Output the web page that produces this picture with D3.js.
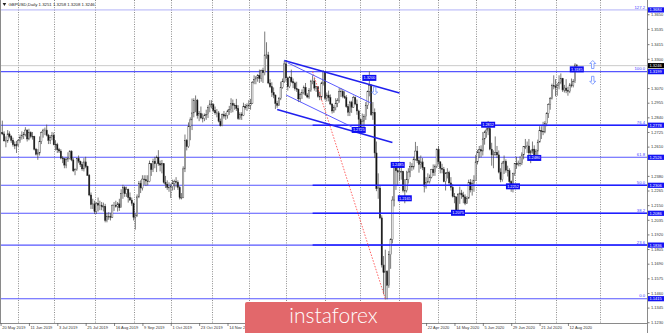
<!DOCTYPE html>
<html><head><meta charset="utf-8">
<script src="https://cdn.jsdelivr.net/npm/d3@7"></script>
<style>html,body{margin:0;padding:0;background:#fff;overflow:hidden}svg{display:block}</style>
</head><body><svg id="c" width="665" height="333"></svg>
<script>
// ---------------- DATA ----------------
const symbol = "GBPUSD", period = "Daily";
const firstDate = "2019-05-20";
const holidays = ["2019-12-25", "2020-01-01"];
// daily bars [open, high, low, close]
const may2019 = [[1.2720,1.2760,1.2700,1.2720],[1.2720,1.2814,1.2700,1.2710],[1.2710,1.2730,1.2650,1.2655],[1.2655,1.2690,1.2605,1.2655],[1.2655,1.2740,1.2640,1.2710],[1.2710,1.2730,1.2675,1.2690],[1.2690,1.2700,1.2640,1.2660],[1.2660,1.2680,1.2610,1.2625],[1.2625,1.2650,1.2590,1.2615],[1.2615,1.2655,1.2560,1.2625]];
const jun2019 = [[1.2625,1.2670,1.2610,1.2660],[1.2660,1.2705,1.2640,1.2680],[1.2680,1.2730,1.2665,1.2695],[1.2695,1.2725,1.2670,1.2705],[1.2705,1.2763,1.2690,1.2740],[1.2740,1.2745,1.2650,1.2670],[1.2670,1.2750,1.2660,1.2720],[1.2720,1.2730,1.2675,1.2690],[1.2690,1.2725,1.2665,1.2690],[1.2690,1.2695,1.2580,1.2590],[1.2590,1.2600,1.2540,1.2550],[1.2550,1.2590,1.2506,1.2560],[1.2560,1.2690,1.2540,1.2650],[1.2650,1.2730,1.2630,1.2720],[1.2720,1.2750,1.2680,1.2740],[1.2740,1.2760,1.2700,1.2740],[1.2740,1.2783,1.2690,1.2700],[1.2700,1.2710,1.2630,1.2660],[1.2660,1.2700,1.2630,1.2680],[1.2680,1.2725,1.2660,1.2700]];
const jul2019 = [[1.2700,1.2720,1.2620,1.2625],[1.2625,1.2660,1.2580,1.2625],[1.2625,1.2640,1.2560,1.2585],[1.2585,1.2600,1.2560,1.2575],[1.2575,1.2590,1.2510,1.2520],[1.2520,1.2535,1.2480,1.2515],[1.2515,1.2520,1.2440,1.2465],[1.2465,1.2525,1.2440,1.2510],[1.2510,1.2565,1.2490,1.2515],[1.2515,1.2580,1.2510,1.2575],[1.2575,1.2580,1.2495,1.2505],[1.2505,1.2520,1.2410,1.2420],[1.2420,1.2440,1.2385,1.2430],[1.2430,1.2520,1.2420,1.2515],[1.2515,1.2540,1.2480,1.2495],[1.2495,1.2500,1.2450,1.2470],[1.2470,1.2490,1.2420,1.2435],[1.2435,1.2520,1.2415,1.2490],[1.2490,1.2530,1.2440,1.2455],[1.2455,1.2460,1.2380,1.2385],[1.2385,1.2395,1.2220,1.2230],[1.2230,1.2250,1.2120,1.2155],[1.2155,1.2200,1.2120,1.2160]];
const aug2019 = [[1.2160,1.2185,1.2080,1.2100],[1.2100,1.2175,1.2080,1.2165],[1.2165,1.2210,1.2100,1.2150],[1.2150,1.2185,1.2110,1.2150],[1.2150,1.2175,1.2110,1.2140],[1.2140,1.2170,1.2100,1.2140],[1.2140,1.2160,1.2015,1.2030],[1.2030,1.2090,1.2015,1.2060],[1.2060,1.2095,1.2035,1.2060],[1.2060,1.2090,1.2030,1.2055],[1.2055,1.2155,1.2050,1.2150],[1.2150,1.2175,1.2105,1.2150],[1.2150,1.2185,1.2130,1.2140],[1.2140,1.2175,1.2100,1.2160],[1.2160,1.2200,1.2105,1.2130],[1.2130,1.2275,1.2130,1.2240],[1.2240,1.2310,1.2200,1.2290],[1.2290,1.2300,1.2215,1.2240],[1.2240,1.2295,1.2215,1.2275],[1.2275,1.2280,1.2170,1.2210],[1.2210,1.2250,1.2185,1.2190],[1.2190,1.2210,1.2145,1.2165]];
const sep2019 = [[1.2165,1.2170,1.2030,1.2055],[1.2055,1.2085,1.1958,1.2065],[1.2065,1.2235,1.2060,1.2215],[1.2215,1.2340,1.2205,1.2320],[1.2320,1.2345,1.2245,1.2285],[1.2285,1.2385,1.2265,1.2355],[1.2355,1.2385,1.2310,1.2350],[1.2350,1.2385,1.2300,1.2340],[1.2340,1.2385,1.2305,1.2335],[1.2335,1.2500,1.2330,1.2475],[1.2475,1.2480,1.2380,1.2430],[1.2430,1.2515,1.2410,1.2495],[1.2495,1.2530,1.2440,1.2475],[1.2475,1.2540,1.2410,1.2525],[1.2525,1.2582,1.2460,1.2475],[1.2475,1.2500,1.2415,1.2465],[1.2465,1.2505,1.2400,1.2475],[1.2475,1.2480,1.2320,1.2330],[1.2330,1.2380,1.2285,1.2315],[1.2315,1.2345,1.2270,1.2290],[1.2290,1.2330,1.2255,1.2290]];
const oct2019 = [[1.2290,1.2318,1.2206,1.2295],[1.2295,1.2350,1.2265,1.2320],[1.2320,1.2350,1.2270,1.2335],[1.2335,1.2370,1.2290,1.2330],[1.2330,1.2345,1.2270,1.2290],[1.2290,1.2300,1.2195,1.2210],[1.2210,1.2245,1.2195,1.2210],[1.2210,1.2455,1.2205,1.2435],[1.2435,1.2705,1.2410,1.2660],[1.2660,1.2670,1.2580,1.2610],[1.2610,1.2800,1.2600,1.2770],[1.2770,1.2840,1.2660,1.2820],[1.2820,1.2988,1.2740,1.2875],[1.2875,1.2990,1.2840,1.2970],[1.2970,1.3012,1.2880,1.2975],[1.2975,1.2985,1.2830,1.2855],[1.2855,1.2890,1.2810,1.2870],[1.2870,1.2925,1.2825,1.2835],[1.2835,1.2870,1.2800,1.2830],[1.2830,1.2870,1.2810,1.2855],[1.2855,1.2900,1.2820,1.2860],[1.2860,1.2935,1.2835,1.2915],[1.2915,1.2975,1.2880,1.2945]];
const nov2019 = [[1.2945,1.2975,1.2910,1.2940],[1.2940,1.2950,1.2880,1.2895],[1.2895,1.2925,1.2860,1.2875],[1.2875,1.2905,1.2840,1.2875],[1.2875,1.2890,1.2800,1.2810],[1.2810,1.2830,1.2768,1.2775],[1.2775,1.2870,1.2770,1.2860],[1.2860,1.2890,1.2830,1.2850],[1.2850,1.2875,1.2820,1.2855],[1.2855,1.2900,1.2830,1.2890],[1.2890,1.2930,1.2860,1.2900],[1.2900,1.2990,1.2875,1.2950],[1.2950,1.2980,1.2880,1.2935],[1.2935,1.2950,1.2900,1.2935],[1.2935,1.2985,1.2890,1.2910],[1.2910,1.2935,1.2820,1.2830],[1.2830,1.2880,1.2820,1.2865],[1.2865,1.2880,1.2820,1.2855],[1.2855,1.2955,1.2850,1.2925],[1.2925,1.2945,1.2900,1.2915],[1.2915,1.2950,1.2890,1.2935]];
const dec2019 = [[1.2935,1.2975,1.2905,1.2935],[1.2935,1.2985,1.2900,1.2950],[1.2950,1.3125,1.2945,1.3115],[1.3115,1.3170,1.3100,1.3135],[1.3135,1.3165,1.3100,1.3150],[1.3150,1.3180,1.3120,1.3170],[1.3170,1.3215,1.3110,1.3145],[1.3145,1.3215,1.3120,1.3210],[1.3210,1.3230,1.3110,1.3190],[1.3190,1.3514,1.3170,1.3330],[1.3330,1.3430,1.3300,1.3330],[1.3330,1.3355,1.3100,1.3110],[1.3110,1.3140,1.3070,1.3080],[1.3080,1.3115,1.3000,1.3035],[1.3035,1.3075,1.2990,1.3015],[1.3015,1.3020,1.2905,1.2950],[1.2950,1.2970,1.2915,1.2935],[1.2935,1.3000,1.2930,1.2990],[1.2990,1.3120,1.2975,1.3075],[1.3075,1.3145,1.3065,1.3120],[1.3120,1.3285,1.3110,1.3260]];
const jan2020 = [[1.3260,1.3285,1.3120,1.3150],[1.3150,1.3160,1.3050,1.3080],[1.3080,1.3165,1.3070,1.3155],[1.3155,1.3215,1.3110,1.3120],[1.3120,1.3145,1.3070,1.3110],[1.3110,1.3120,1.3050,1.3065],[1.3065,1.3120,1.3040,1.3060],[1.3060,1.3065,1.2960,1.2985],[1.2985,1.3035,1.2960,1.3020],[1.3020,1.3060,1.2985,1.3035],[1.3035,1.3090,1.3020,1.3075],[1.3075,1.3110,1.3010,1.3015],[1.3015,1.3030,1.2990,1.3000],[1.3000,1.3070,1.2985,1.3050],[1.3050,1.3135,1.3040,1.3125],[1.3125,1.3170,1.3100,1.3125],[1.3125,1.3150,1.3050,1.3070],[1.3070,1.3085,1.3040,1.3080],[1.3080,1.3085,1.2995,1.3005],[1.3005,1.3040,1.2975,1.3000],[1.3000,1.3120,1.2975,1.3110],[1.3110,1.3210,1.3090,1.3200]];
const feb2020 = [[1.3200,1.3200,1.2975,1.2990],[1.2990,1.3035,1.2965,1.3015],[1.3015,1.3050,1.2965,1.2995],[1.2995,1.3020,1.2935,1.2945],[1.2945,1.2950,1.2870,1.2890],[1.2890,1.2935,1.2875,1.2915],[1.2915,1.2990,1.2895,1.2950],[1.2950,1.2990,1.2920,1.2970],[1.2970,1.3070,1.2955,1.3045],[1.3045,1.3070,1.3000,1.3045],[1.3045,1.3060,1.2990,1.3005],[1.3005,1.3045,1.2985,1.2995],[1.2995,1.3015,1.2915,1.2925],[1.2925,1.2945,1.2850,1.2880],[1.2880,1.2970,1.2850,1.2960],[1.2960,1.2970,1.2875,1.2920],[1.2920,1.3010,1.2915,1.2995],[1.2995,1.3005,1.2935,1.2945],[1.2945,1.2980,1.2860,1.2890],[1.2890,1.2900,1.2725,1.2825]];
const mar2020 = [[1.2825,1.2830,1.2725,1.2760],[1.2760,1.2870,1.2745,1.2810],[1.2810,1.2865,1.2760,1.2845],[1.2845,1.2960,1.2820,1.2935],[1.2935,1.3050,1.2905,1.3045],[1.3045,1.3200,1.3005,1.3090],[1.3090,1.3100,1.2850,1.2860],[1.2860,1.2960,1.2820,1.2880],[1.2880,1.2910,1.2520,1.2560],[1.2560,1.2650,1.2260,1.2280],[1.2280,1.2400,1.2200,1.2285],[1.2285,1.2300,1.2040,1.2050],[1.2050,1.2070,1.1660,1.1680],[1.1680,1.1750,1.1450,1.1620],[1.1620,1.1800,1.1409,1.1630],[1.1630,1.1640,1.1410,1.1520],[1.1520,1.1790,1.1500,1.1760],[1.1760,1.1890,1.1650,1.1880],[1.1880,1.2220,1.1850,1.2190],[1.2190,1.2480,1.2140,1.2460],[1.2460,1.2485,1.2270,1.2420],[1.2420,1.2485,1.2300,1.2410]];
const apr2020 = [[1.2410,1.2485,1.2345,1.2410],[1.2410,1.2485,1.2350,1.2415],[1.2415,1.2420,1.2250,1.2265],[1.2265,1.2355,1.2165,1.2265],[1.2265,1.2420,1.2250,1.2350],[1.2350,1.2440,1.2320,1.2410],[1.2410,1.2490,1.2370,1.2455],[1.2455,1.2480,1.2420,1.2450],[1.2450,1.2530,1.2430,1.2510],[1.2510,1.2647,1.2500,1.2575],[1.2575,1.2615,1.2480,1.2500],[1.2500,1.2530,1.2405,1.2470],[1.2470,1.2540,1.2435,1.2490],[1.2490,1.2520,1.2425,1.2445],[1.2445,1.2450,1.2250,1.2300],[1.2300,1.2370,1.2280,1.2330],[1.2330,1.2400,1.2320,1.2335],[1.2335,1.2390,1.2320,1.2370],[1.2370,1.2435,1.2360,1.2430],[1.2430,1.2470,1.2380,1.2405],[1.2405,1.2470,1.2380,1.2455],[1.2455,1.2595,1.2440,1.2590]];
const may2020 = [[1.2590,1.2615,1.2470,1.2490],[1.2490,1.2495,1.2400,1.2440],[1.2440,1.2475,1.2400,1.2430],[1.2430,1.2450,1.2330,1.2335],[1.2335,1.2410,1.2265,1.2400],[1.2400,1.2440,1.2360,1.2405],[1.2405,1.2420,1.2300,1.2325],[1.2325,1.2370,1.2265,1.2290],[1.2290,1.2315,1.2210,1.2220],[1.2220,1.2245,1.2165,1.2215],[1.2215,1.2215,1.2080,1.2110],[1.2110,1.2245,1.2075,1.2235],[1.2235,1.2295,1.2160,1.2245],[1.2245,1.2270,1.2200,1.2230],[1.2230,1.2255,1.2165,1.2215],[1.2215,1.2235,1.2150,1.2165],[1.2165,1.2220,1.2160,1.2205],[1.2205,1.2350,1.2200,1.2330],[1.2330,1.2355,1.2250,1.2270],[1.2270,1.2350,1.2225,1.2320],[1.2320,1.2385,1.2255,1.2345]];
const jun2020 = [[1.2345,1.2545,1.2345,1.2490],[1.2490,1.2585,1.2470,1.2565],[1.2565,1.2615,1.2520,1.2585],[1.2585,1.2620,1.2525,1.2575],[1.2575,1.2725,1.2540,1.2670],[1.2670,1.2735,1.2625,1.2725],[1.2725,1.2760,1.2680,1.2740],[1.2740,1.2812,1.2700,1.2750],[1.2750,1.2775,1.2580,1.2590],[1.2590,1.2640,1.2460,1.2545],[1.2545,1.2580,1.2440,1.2545],[1.2545,1.2690,1.2540,1.2565],[1.2565,1.2615,1.2520,1.2545],[1.2545,1.2580,1.2400,1.2410],[1.2410,1.2440,1.2330,1.2350],[1.2350,1.2495,1.2335,1.2480],[1.2480,1.2540,1.2395,1.2495],[1.2495,1.2510,1.2405,1.2425],[1.2425,1.2460,1.2375,1.2420],[1.2420,1.2440,1.2320,1.2335],[1.2335,1.2345,1.2255,1.2310],[1.2310,1.2405,1.2250,1.2400]];
const jul2020 = [[1.2400,1.2480,1.2380,1.2475],[1.2475,1.2530,1.2435,1.2470],[1.2470,1.2500,1.2455,1.2480],[1.2480,1.2535,1.2455,1.2475],[1.2475,1.2565,1.2465,1.2545],[1.2545,1.2610,1.2510,1.2610],[1.2610,1.2670,1.2590,1.2610],[1.2610,1.2650,1.2560,1.2615],[1.2615,1.2670,1.2535,1.2560],[1.2560,1.2585,1.2480,1.2575],[1.2575,1.2650,1.2555,1.2590],[1.2590,1.2620,1.2530,1.2540],[1.2540,1.2590,1.2515,1.2575],[1.2575,1.2665,1.2540,1.2645],[1.2645,1.2770,1.2645,1.2735],[1.2735,1.2770,1.2670,1.2730],[1.2730,1.2805,1.2700,1.2725],[1.2725,1.2810,1.2715,1.2790],[1.2790,1.2880,1.2770,1.2870],[1.2870,1.2950,1.2835,1.2940],[1.2940,1.3000,1.2900,1.2990],[1.2990,1.3105,1.2980,1.3090],[1.3090,1.3170,1.3060,1.3085]];
const aug2020 = [[1.3085,1.3140,1.3005,1.3075],[1.3075,1.3110,1.3010,1.3090],[1.3090,1.3170,1.3060,1.3115],[1.3115,1.3185,1.3100,1.3145],[1.3145,1.3150,1.3040,1.3055],[1.3055,1.3095,1.3035,1.3070],[1.3070,1.3140,1.3030,1.3050],[1.3050,1.3080,1.3010,1.3045],[1.3045,1.3110,1.3030,1.3095],[1.3095,1.3145,1.3075,1.3090],[1.3090,1.3140,1.3075,1.3120],[1.3120,1.3265,1.3110,1.3251],[1.3251,1.3258,1.3208,1.3246]];

// price axis tick labels
const yTicks = [1.3650,1.3535,1.3415,1.3300,1.3070,1.2955,1.2840,1.2725,1.2610,1.2380,1.2265,1.2150,1.2035,1.1920,1.1805,1.1690,1.1575,1.1460,1.1345,1.1230];
// time axis labels visible outside the watermark (dates)
const dateTicks = ["2019-05-20","2019-06-11","2019-07-03","2019-07-25","2019-08-16","2019-09-09","2019-10-01","2019-10-23","2019-11-14","2020-04-22","2020-05-14","2020-06-05","2020-06-29","2020-07-21","2020-08-12"];
// period separators (month starts)
const gridDates = ["2019-06-03","2019-07-01","2019-08-01","2019-09-02","2019-10-01","2019-11-01","2019-12-02","2020-01-02","2020-02-03","2020-03-02","2020-04-01","2020-05-01","2020-06-01","2020-07-01","2020-08-03","2020-09-01"];
// Fibonacci retracement
const fibLevels = ["127.2","100.0","76.4","61.8","50.0","38.2","23.6","0.0"];
const fibPrices = [1.3684,1.3199,1.2778,1.2526,1.2306,1.2086,1.1836,1.1415];
const fibAnchor = [["2020-01-23",1.3199],["2020-03-20",1.1415]];
// channel trend lines [date, price] -> [date, price]
const upperOuter = [["2019-12-31",1.3287],["2020-04-01",1.3031]];
const upperInner = [["2020-01-03",1.3268],["2020-03-10",1.2952]];
const lowerInner = [["2020-01-02",1.3016],["2020-02-24",1.2766]];
const lowerOuter = [["2019-12-24",1.2902],["2020-03-26",1.2643]];
// price marker boxes [date, price, text]
const markers = [["2020-03-09",1.3150,"1.3200"],["2020-02-28",1.2741,"1.2725"],["2020-03-31",1.2466,"1.2485"],["2020-04-06",1.2204,"1.2165"],["2020-06-10",1.2782,"1.2812"],["2020-05-18",1.2090,"1.2075"],["2020-06-30",1.2298,"1.2252"],["2020-07-16",1.2521,"1.2480"],["2020-08-19",1.3217,"1.3185"]];
// arrows [date, price, direction]
const arrows = [["2020-08-28",1.3255,"up"],["2020-08-28",1.3131,"down"],["2020-03-12",1.3047,"down"]];

// ---------------- BUILD ----------------
const bars = [].concat(may2019,jun2019,jul2019,aug2019,sep2019,oct2019,nov2019,dec2019,jan2020,feb2020,mar2020,apr2020,may2020,jun2020,jul2020,aug2020)
  .map(b => ({o:b[0],h:b[1],l:b[2],c:b[3]}));
const dayMs = 86400000;
const dates = [];
{
  let t = Date.parse(firstDate + "T00:00:00Z");
  while (dates.length < bars.length) {
    const d = new Date(t), s = d.toISOString().slice(0,10), w = d.getUTCDay();
    if (w !== 0 && w !== 6 && !holidays.includes(s)) dates.push(s);
    t += dayMs;
  }
  // future time axis (calendar days after the last bar)
  let f = Date.parse(dates[dates.length-1] + "T00:00:00Z");
  for (let k = 0; k < 60; k++) { f += dayMs; dates.push(new Date(f).toISOString().slice(0,10)); }
}
bars.forEach((b,i) => b.date = dates[i]);
const idx = new Map(dates.map((d,i) => [d,i]));
const ix = s => idx.get(s);

const W = 665, H = 333, plotR = 647, plotB = 323;
const xs = d3.scaleLinear().domain([-0.32, 364.6]).range([0, plotR]);
const ys = d3.scaleLinear().domain([1.1224, 1.3762]).range([plotB, 0]);

const svg = d3.select("#c");
svg.append("rect").attr("width",W).attr("height",H).attr("fill","#fff");
const FONT = "'Liberation Sans', Arial, sans-serif";

// month separators
svg.append("g").selectAll("line").data(gridDates).join("line")
  .attr("x1", d => Math.round(xs(ix(d)))+0.5).attr("x2", d => Math.round(xs(ix(d)))+0.5)
  .attr("y1", 0).attr("y2", plotB)
  .attr("stroke","#808080").attr("stroke-width",0.9).attr("stroke-dasharray","1,1.4");

// full width level lines
svg.append("g").selectAll("line").data(fibPrices).join("line")
  .attr("x1", 0).attr("x2", plotR)
  .attr("y1", d => ys(d)).attr("y2", d => ys(d))
  .attr("stroke", (d,i) => i === 0 ? "#a9a9f6" : "#5656ff")
  .attr("stroke-width", (d,i) => i === 0 ? 0.9 : 1.1);

// current price line
const last = bars[bars.length-1];
svg.append("line").attr("x1",0).attr("x2",plotR).attr("y1",ys(last.c)).attr("y2",ys(last.c))
  .attr("stroke","#c4c4c4").attr("stroke-width",0.9);

// candles
const cg = svg.append("g");
cg.selectAll("line").data(bars).join("line")
  .attr("x1", (d,i) => xs(i)).attr("x2", (d,i) => xs(i))
  .attr("y1", d => ys(d.h)).attr("y2", d => ys(d.l))
  .attr("stroke","#4d4d4d").attr("stroke-width",0.75);
cg.selectAll("rect").data(bars).join("rect")
  .attr("x", (d,i) => xs(i) - 0.65).attr("width", 1.3)
  .attr("y", d => ys(Math.max(d.o,d.c)))
  .attr("height", d => Math.max(0.6, Math.abs(ys(d.o) - ys(d.c))))
  .attr("fill", d => d.c >= d.o ? "#ffffff" : "#111111")
  .attr("stroke", "#2a2a2a").attr("stroke-width", 0.4);

// fibonacci overlay lines (start at anchor)
const fibStrong = new Set(["76.4","50.0","38.2","23.6"]);
svg.append("g").selectAll("line").data(fibPrices.filter((p,i) => fibStrong.has(fibLevels[i]))).join("line")
  .attr("x1", xs(ix(fibAnchor[0][0]))).attr("x2", plotR)
  .attr("y1", d => ys(d)).attr("y2", d => ys(d))
  .attr("stroke","#1f1fff").attr("stroke-width",1.5);
// fib diagonal
svg.append("line")
  .attr("x1", xs(ix(fibAnchor[0][0]))).attr("y1", ys(fibAnchor[0][1]))
  .attr("x2", xs(ix(fibAnchor[1][0]))).attr("y2", ys(fibAnchor[1][1]))
  .attr("stroke","#ff5050").attr("stroke-width",0.9).attr("stroke-dasharray","1.5,1.5");

// channel lines
const chan = [[upperOuter,1.6,"#2020ee"],[lowerOuter,1.6,"#2020ee"],[upperInner,0.9,"#4a4aff"],[lowerInner,0.9,"#4a4aff"]];
svg.append("g").selectAll("line").data(chan).join("line")
  .attr("x1", d => xs(ix(d[0][0][0]))).attr("y1", d => ys(d[0][0][1]))
  .attr("x2", d => xs(ix(d[0][1][0]))).attr("y2", d => ys(d[0][1][1]))
  .attr("stroke", d => d[2]).attr("stroke-width", d => d[1]);

// fib level text
svg.append("g").selectAll("text").data(fibLevels).join("text")
  .attr("x", plotR - 2).attr("y", (d,i) => ys(fibPrices[i]) - 1.2)
  .attr("text-anchor","end").attr("font-family",FONT).attr("font-size",4.2)
  .attr("fill","#4040ff").text(d => d);

// marker boxes
const mg = svg.append("g").selectAll("g").data(markers).join("g")
  .attr("transform", d => `translate(${xs(ix(d[0]))},${ys(d[1])})`);
mg.append("rect").attr("x",-7).attr("y",-3).attr("width",14).attr("height",6).attr("fill","#0d0df2");
mg.append("text").attr("text-anchor","middle").attr("y",1.4).attr("font-family",FONT)
  .attr("font-size",3.8).attr("fill","#fff").text(d => d[2]);

// arrows
const arrowPath = "M0,-4 L3,-1 L1.2,-1 L1.2,4 L-1.2,4 L-1.2,-1 L-3,-1 Z";
svg.append("g").selectAll("path").data(arrows).join("path")
  .attr("d", arrowPath)
  .attr("transform", d => `translate(${xs(ix(d[0]))},${ys(d[1])}) rotate(${d[2]==="up"?0:180})`)
  .attr("fill","#fff").attr("stroke","#6a8cff").attr("stroke-width",0.8);

// frame
svg.append("line").attr("x1",0.5).attr("x2",0.5).attr("y1",0).attr("y2",plotB).attr("stroke","#8a8a8a");
svg.append("line").attr("x1",0).attr("x2",plotR).attr("y1",plotB+0.5).attr("y2",plotB+0.5).attr("stroke","#8a8a8a");

// price axis
const yAxis = svg.append("g").attr("transform",`translate(${plotR+0.5},0)`)
  .call(d3.axisRight(ys).tickValues(yTicks).tickSize(2).tickPadding(1.5).tickFormat(d3.format(".4f")));
yAxis.select(".domain").attr("stroke","#8a8a8a").attr("d",`M0,0V${H}`);
yAxis.selectAll(".tick line").attr("stroke","#777");
yAxis.selectAll("text").attr("font-family",FONT).attr("font-size",4).attr("fill","#333");

// fib price boxes on the axis
const fb = svg.append("g").selectAll("g").data(fibPrices).join("g")
  .attr("transform", d => `translate(${plotR+0.5},${ys(d)})`);
fb.append("rect").attr("x",0.5).attr("y",-2.6).attr("width",16).attr("height",5.2).attr("fill","#1414f4");
fb.append("text").attr("x",2).attr("y",1.5).attr("font-family",FONT).attr("font-size",4)
  .attr("fill","#fff").text(d => d3.format(".4f")(d));
// current price box
const cb = svg.append("g").attr("transform",`translate(${plotR+0.5},${ys(last.c)})`);
cb.append("rect").attr("x",0.5).attr("y",-2.6).attr("width",16).attr("height",5.2).attr("fill","#000");
cb.append("text").attr("x",2).attr("y",1.5).attr("font-family",FONT).attr("font-size",4)
  .attr("fill","#fff").text(d3.format(".4f")(last.c));

// time axis
const fmt = d3.utcFormat("%-d %b %Y");
const xAxis = svg.append("g").attr("transform",`translate(0,${plotB})`)
  .call(d3.axisBottom(xs).tickValues(dateTicks.map(ix)).tickSize(3).tickPadding(0.6)
    .tickFormat(i => fmt(new Date(dates[i] + "T00:00:00Z"))));
xAxis.select(".domain").remove();
xAxis.selectAll(".tick line").attr("stroke","#555").attr("stroke-width",0.7);
xAxis.selectAll("text").attr("font-family",FONT).attr("font-size",4).attr("fill","#333")
  .attr("text-anchor","start").attr("x",1.2);

// header
svg.append("path").attr("d","M2.6,3 L6.2,3 L4.4,6 Z").attr("fill","#222");
svg.append("text").attr("x",8.5).attr("y",6).attr("font-family",FONT).attr("font-size",4.3)
  .attr("fill","#222")
  .text(`${symbol},${period}  ${d3.format(".4f")(last.o)} ${d3.format(".4f")(last.h)} ${d3.format(".4f")(last.l)} ${d3.format(".4f")(last.c)}`);

// watermark logo
svg.append("rect").attr("x",245).attr("y",302).attr("width",177).attr("height",40).attr("rx",2).attr("fill","#e2686b");
svg.append("text").attr("x",333.5).attr("y",323).attr("text-anchor","middle")
  .attr("font-family","Lato, 'Open Sans', sans-serif").attr("font-weight",300).attr("font-size",21)
  .attr("fill","#fff").text("instaforex");
</script></body></html>
